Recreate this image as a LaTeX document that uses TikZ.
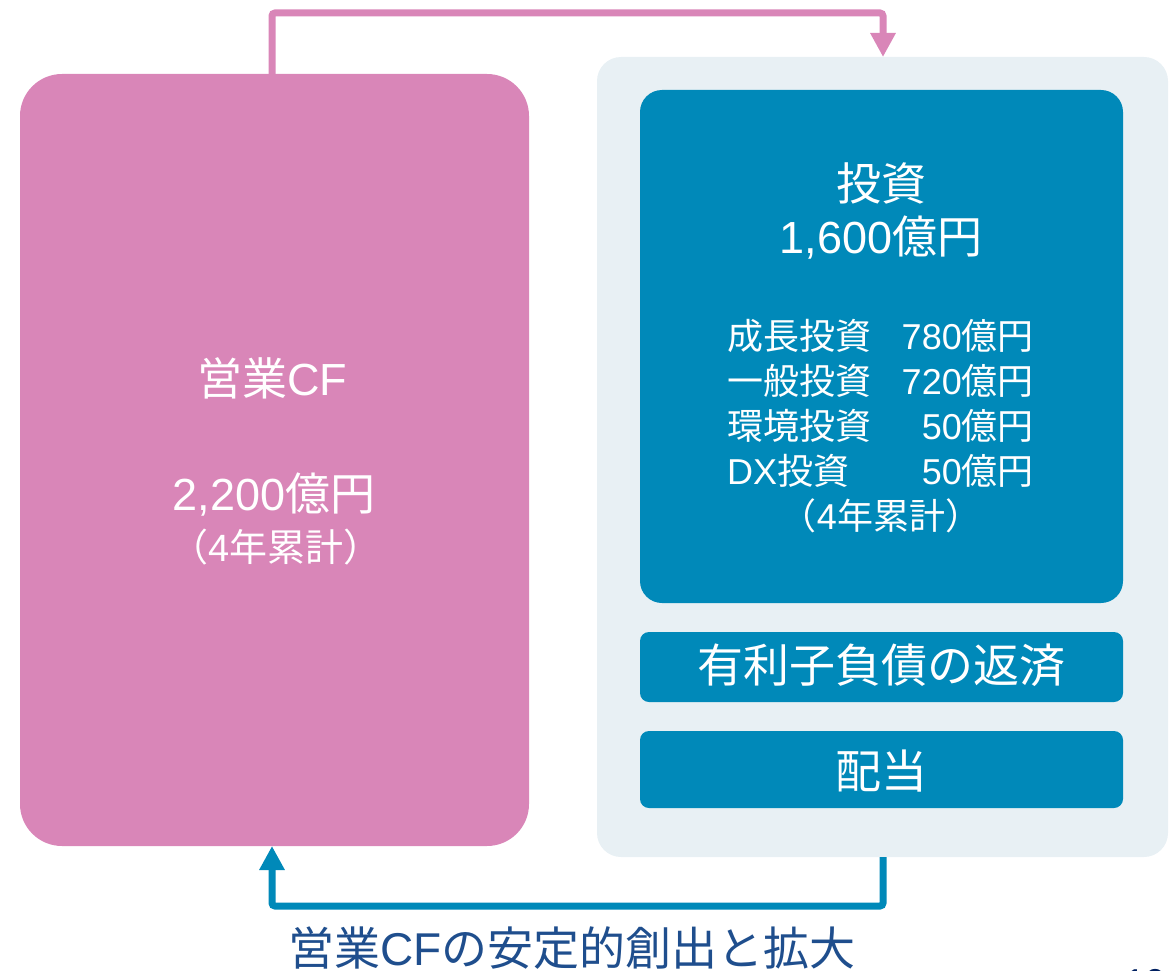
\documentclass[tikz,border=0pt]{standalone}
\usepackage{fontspec}
\setmainfont{Liberation Sans}
\newfontfamily\jp{Noto Sans CJK JP}
\usetikzlibrary{arrows.meta}
\definecolor{cfpink}{RGB}{217,134,184}
\definecolor{cfblue}{RGB}{0,137,185}
\definecolor{cfgrey}{RGB}{232,240,244}
\definecolor{cfnavy}{RGB}{31,78,141}
\definecolor{pgnavy}{RGB}{0,32,96}
\tikzset{
  panel/.style={draw=none, inner sep=0pt, outer sep=0pt},
  pinkpanel/.style={panel, fill=cfpink, rounded corners=42pt},
  greypanel/.style={panel, fill=cfgrey, rounded corners=24pt},
  bluepanel/.style={panel, fill=cfblue, rounded corners=22pt},
  bluebar/.style={panel, fill=cfblue, rounded corners=9pt},
  bigtxt/.style={text=white, inner sep=0pt, font=\fontsize{45}{52}\selectfont},
  midtxt/.style={text=white, inner sep=0pt, font=\fontsize{36}{42}\selectfont},
  sumtxt/.style={text=white, inner sep=0pt, font=\fontsize{38}{44}\selectfont},
  bartxt/.style={text=white, inner sep=0pt, font=\fontsize{46}{54}\selectfont},
  flow/.style={line width=7pt, rounded corners=3pt, -{Triangle[width=24pt,length=24pt]}},
}
\begin{document}
\begin{tikzpicture}[x=1pt,y=-1pt]
\path[use as bounding box] (0,0) rectangle (1170,971);

% panels
\node[pinkpanel, minimum width=509pt, minimum height=772pt] (pink) at (274.5,460) {};
\node[greypanel, minimum width=571pt, minimum height=800pt] (grey) at (882.5,457) {};
\node[bluepanel, minimum width=483pt, minimum height=513pt] (inv) at (881.5,346.5) {};
\node[bluebar, minimum width=483pt, minimum height=70pt] (debt) at (881.5,667) {};
\node[bluebar, minimum width=483pt, minimum height=77pt] (div) at (881.5,769.5) {};

% pink texts
\node[bigtxt] (cfA) at (272,378) {{\jp 営業}CF};
\node[bigtxt] (cfB) at (274,495) {2,200{\jp 億円}};
\node[sumtxt] (cfC) at (276,547) {{\jp （}4{\jp 年累計）}};

% investment texts
\node[bigtxt] (invA) at (881,183) {\jp 投資};
\node[bigtxt] (invB) at (881,238) {1,600{\jp 億円}};
\node[midtxt, anchor=west] (r1a) at (727,336) {\jp 成長投資};
\node[midtxt, anchor=east] (r1b) at (1034,336) {780{\jp 億円}};
\node[midtxt, anchor=west] (r2a) at (727,381) {\jp 一般投資};
\node[midtxt, anchor=east] (r2b) at (1034,381) {720{\jp 億円}};
\node[midtxt, anchor=west] (r3a) at (727,426) {\jp 環境投資};
\node[midtxt, anchor=east] (r3b) at (1034,426) {50{\jp 億円}};
\node[midtxt, anchor=west] (r4a) at (727,471) {DX{\jp 投資}};
\node[midtxt, anchor=east] (r4b) at (1034,471) {50{\jp 億円}};
\node[midtxt] (invC) at (881,516) {{\jp （}4{\jp 年累計）}};

% bar texts
\node[bartxt] (debtT) at (881,665) {\jp 有利子負債の返済};
\node[bartxt] (divT) at (881,771) {\jp 配当};

% bottom caption
\node[inner sep=0pt, text=cfnavy, font=\fontsize{46}{54}\selectfont] (cap) at (572,948) {{\jp 営業}CF{\jp の安定的創出と拡大}};

% page number (cut off)
\node[inner sep=0pt, anchor=base, text=pgnavy, font=\fontsize{36}{42}\selectfont] (pg) at (1145,994) {10};

% connectors
\coordinate (tL) at (272,13);
\coordinate (tR) at (883,13);
\coordinate (bL) at (272,906);
\coordinate (bR) at (883,906);
\draw[flow, cfpink] (tL |- pink.north) -- (tL) -- (tR) -- (tR |- grey.north);
\draw[flow, cfblue] (bR |- grey.south) -- (bR) -- (bL) -- (bL |- pink.south);
\end{tikzpicture}
\end{document}
